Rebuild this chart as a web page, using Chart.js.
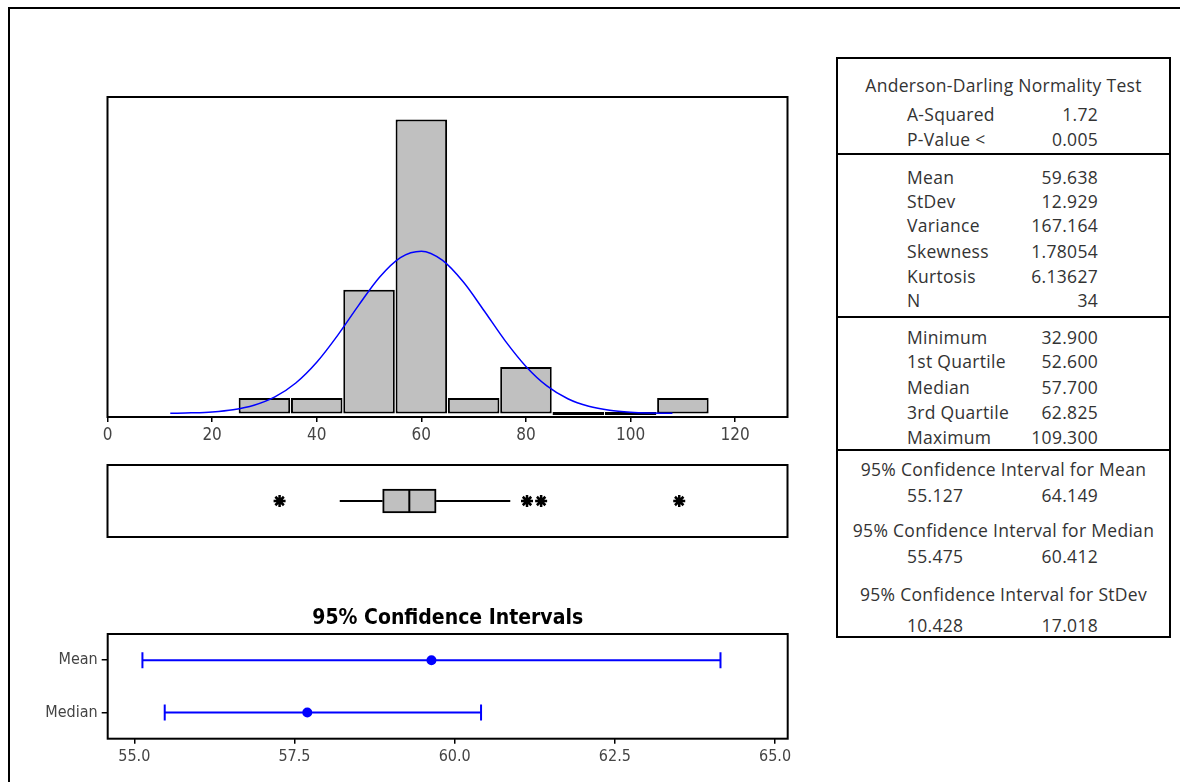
<!DOCTYPE html>
<html>
<head>
<meta charset="utf-8">
<script src="https://cdn.jsdelivr.net/npm/chart.js@4.4.1/dist/chart.umd.min.js"></script>
<style>
  html, body { margin: 0; padding: 0; background: #fff; }
  body { width: 1180px; height: 782px; position: relative; overflow: hidden; }
  #frame { position: absolute; left: 8px; top: 7px; width: 1300px; height: 900px;
           border-left: 2px solid #000; border-top: 2px solid #000; }
  canvas { position: absolute; left: 0; }
  #stats { position: absolute; left: 836px; top: 57px; width: 335px; height: 581px;
           border: 2px solid #000; box-sizing: border-box;
           font-family: 'Open Sans', 'DejaVu Sans', sans-serif; color: #333; }
  .sep { position: absolute; left: 0; right: 0; height: 0; border-top: 2px solid #000; }
  .cell { position: absolute; height: 24px; line-height: 24px; font-size: 17.5px;
          letter-spacing: 0.3px; white-space: nowrap; }
</style>
</head>
<body>
<div id="frame"></div>
<canvas id="hist" width="800" height="380" style="top:80px"></canvas>
<canvas id="box" width="800" height="100" style="top:455px"></canvas>
<canvas id="ci" width="800" height="182" style="top:600px"></canvas>
<div id="stats"></div>

<script>
// ── Data ─────────────────────────────────────────────────────────────────────

// histogram (bin width 10)
const binMids = [30, 40, 50, 60, 70, 80, 90, 100, 110];
const binCounts = [1, 1, 8, 19, 1, 3, 0, 0, 1];
const histTicks = [0, 20, 40, 60, 80, 100, 120];

// fitted normal curve
const curveX = [12, 16, 20, 24, 28, 32, 36, 40, 44, 48, 52, 56, 60, 64, 68, 72, 76, 80, 84, 88, 92, 96, 100, 104, 108];
const curveY = [0.01, 0.04, 0.10, 0.24, 0.53, 1.07, 1.97, 3.31, 5.05, 6.99, 8.81, 10.08, 10.49, 9.91, 8.51, 6.64, 4.71, 3.04, 1.78, 0.95, 0.46, 0.20, 0.08, 0.03, 0.01];

// boxplot
const boxQ1 = 52.6;
const boxMedian = 57.7;
const boxQ3 = 62.825;
const whiskerLow = 44.4;
const whiskerHigh = 77.0;
const outliers = [32.9, 80.2, 82.9, 109.3];

// confidence intervals
const ciTitle = '95% Confidence Intervals';
const ciLabels = ['Mean', 'Median'];
const ciLower = [55.127, 55.475];
const ciUpper = [64.149, 60.412];
const ciEstimate = [59.638, 57.7];
const ciTicks = [55.0, 57.5, 60.0, 62.5, 65.0];

// summary table
const adTitle = 'Anderson-Darling Normality Test';
const adLabels = ['A-Squared', 'P-Value <'];
const adValues = ['1.72', '0.005'];
const descLabels = ['Mean', 'StDev', 'Variance', 'Skewness', 'Kurtosis', 'N'];
const descValues = ['59.638', '12.929', '167.164', '1.78054', '6.13627', '34'];
const quartLabels = ['Minimum', '1st Quartile', 'Median', '3rd Quartile', 'Maximum'];
const quartValues = ['32.900', '52.600', '57.700', '62.825', '109.300'];
const intTitles = ['95% Confidence Interval for Mean', '95% Confidence Interval for Median', '95% Confidence Interval for StDev'];
const intLow = ['55.127', '55.475', '10.428'];
const intHigh = ['64.149', '60.412', '17.018'];

// ── Shared settings ──────────────────────────────────────────────────────────

const AXIS_FONT = "'DejaVu Sans Condensed', 'DejaVu Sans', sans-serif";
const BLUE = '#0000FF';
const GREY = '#C0C0C0';

Chart.defaults.font.family = AXIS_FONT;
Chart.defaults.color = '#444';
Chart.defaults.animation = false;

const framePlugin = {
  id: 'frame',
  afterDraw(chart) {
    const { ctx, chartArea: a } = chart;
    ctx.save();
    ctx.strokeStyle = '#000';
    ctx.lineWidth = 2;
    ctx.strokeRect(a.left, a.top, a.right - a.left, a.bottom - a.top);
    ctx.restore();
  }
};

const noExtras = { legend: { display: false }, tooltip: { enabled: false } };

// ── Histogram ────────────────────────────────────────────────────────────────

new Chart(document.getElementById('hist'), {
  type: 'bar',
  data: {
    datasets: [
      {
        type: 'line',
        data: curveX.map((x, i) => ({ x, y: curveY[i] })),
        borderColor: BLUE,
        borderWidth: 1.5,
        pointRadius: 0,
        cubicInterpolationMode: 'monotone',
        order: 0,
      },
      {
        type: 'bar',
        data: binMids.map((x, i) => ({ x, y: binCounts[i] })),
        backgroundColor: GREY,
        borderColor: '#000',
        borderWidth: 2,
        borderSkipped: false,
        barPercentage: 0.985,
        categoryPercentage: 1,
        minBarLength: 3,
        order: 1,
      }
    ]
  },
  options: {
    responsive: false,
    layout: { padding: { left: 107.5, right: 12.5, top: 17, bottom: 0 } },
    plugins: noExtras,
    scales: {
      x: {
        type: 'linear', min: 0, max: 130, offset: false,
        afterBuildTicks: s => { s.ticks = histTicks.map(v => ({ value: v })); },
        afterFit: s => { s.height = 43; },
        grid: { offset: false, drawOnChartArea: false, tickLength: 5, color: '#000', lineWidth: 1.5 },
        border: { display: false },
        ticks: { color: '#444', font: { size: 17 }, padding: 3 },
      },
      y: { type: 'linear', min: -0.23, max: 20.46, offset: false, display: false },
    },
  },
  plugins: [framePlugin],
});

// ── Boxplot ──────────────────────────────────────────────────────────────────

const blackLine = { type: 'line', borderColor: '#000', borderWidth: 2, pointRadius: 0 };

new Chart(document.getElementById('box'), {
  type: 'bar',
  data: {
    datasets: [
      { ...blackLine, data: [{ x: boxMedian, y: -0.33 }, { x: boxMedian, y: 0.33 }] },
      {
        type: 'scatter',
        data: outliers.map(x => ({ x, y: 0 })),
        pointStyle: 'star',
        pointRadius: 6,
        borderColor: '#000',
        borderWidth: 2.5,
      },
      { ...blackLine, data: [{ x: whiskerLow, y: 0 }, { x: boxQ1, y: 0 }] },
      { ...blackLine, data: [{ x: boxQ3, y: 0 }, { x: whiskerHigh, y: 0 }] },
      {
        type: 'bar',
        indexAxis: 'y',
        data: [{ x: [boxQ1, boxQ3], y: 0 }],
        barThickness: 24,
        backgroundColor: GREY,
        borderColor: '#000',
        borderWidth: 2,
        borderSkipped: false,
      }
    ]
  },
  options: {
    responsive: false,
    layout: { padding: { left: 107.5, right: 12.5, top: 10, bottom: 18 } },
    plugins: noExtras,
    scales: {
      x: { type: 'linear', min: 0, max: 130, offset: false, display: false },
      y: { type: 'linear', min: -1, max: 1, offset: false, display: false },
    },
  },
  plugins: [framePlugin],
});

// ── Confidence intervals ─────────────────────────────────────────────────────

new Chart(document.getElementById('ci'), {
  type: 'line',
  data: {
    datasets: [
      {
        type: 'scatter',
        data: ciLabels.map((l, i) => ({ x: ciEstimate[i], y: l })),
        pointRadius: 5,
        pointBackgroundColor: BLUE,
        pointBorderColor: BLUE,
        pointBorderWidth: 0,
      },
      ...ciLabels.map((l, i) => ({
        data: [{ x: ciLower[i], y: l }, { x: ciUpper[i], y: l }],
        borderColor: BLUE,
        borderWidth: 2,
        pointStyle: 'line',
        pointRotation: 90,
        pointRadius: 8,
        pointBorderColor: BLUE,
        pointBorderWidth: 2,
      }))
    ]
  },
  options: {
    responsive: false,
    layout: { padding: { left: 0, right: 12.3, top: 0, bottom: 0 } },
    plugins: {
      ...noExtras,
      title: {
        display: true, text: ciTitle, color: '#000', fullSize: false,
        font: { family: "'DejaVu Sans Condensed', 'DejaVu Sans', sans-serif", size: 21, weight: 'bold', lineHeight: 1.0 },
        padding: { top: 8, bottom: 5 },
      },
    },
    scales: {
      x: {
        type: 'linear', min: 54.585, max: 65.198,
        afterBuildTicks: s => { s.ticks = ciTicks.map(v => ({ value: v })); },
        afterFit: s => { s.height = 43.3; },
        grid: { drawOnChartArea: false, tickLength: 5, color: '#000', lineWidth: 1.5 },
        border: { display: false },
        ticks: { color: '#444', font: { size: 16 }, padding: 4, callback: v => v.toFixed(1) },
      },
      y: {
        type: 'category', labels: ciLabels, offset: true,
        afterFit: s => { s.width = 107.7; },
        grid: { drawOnChartArea: false, tickLength: 6, color: '#000', lineWidth: 1.5 },
        border: { display: false },
        ticks: { color: '#444', font: { size: 16 }, padding: 4 },
      },
    },
  },
  plugins: [framePlugin],
});

// ── Summary table ────────────────────────────────────────────────────────────

const stats = document.getElementById('stats');
const TOP = 59;       // inner top of the table box (page y)
const LABEL_X = 69;   // label left inside box
const VALUE_R = 260;  // value right edge inside box

function addCell(text, yCenter, style) {
  const d = document.createElement('div');
  d.className = 'cell';
  d.textContent = text;
  d.style.top = (yCenter - TOP - 12) + 'px';
  Object.assign(d.style, style);
  stats.appendChild(d);
}

function addPair(label, value, y) {
  addCell(label, y, { left: LABEL_X + 'px' });
  addCell(value, y, { left: '0px', width: VALUE_R + 'px', textAlign: 'right' });
}

function addSep(y) {
  const d = document.createElement('div');
  d.className = 'sep';
  d.style.top = (y - TOP - 1) + 'px';
  stats.appendChild(d);
}

addCell(adTitle, 85, { left: '0px', right: '0px', textAlign: 'center' });
[114, 139].forEach((y, i) => addPair(adLabels[i], adValues[i], y));
addSep(154);
[177, 201, 225, 251, 276, 300].forEach((y, i) => addPair(descLabels[i], descValues[i], y));
addSep(317);
[337, 361, 387, 412, 437].forEach((y, i) => addPair(quartLabels[i], quartValues[i], y));
addSep(450);
[[469, 495], [530, 556], [594, 625]].forEach(([ty, vy], i) => {
  addCell(intTitles[i], ty, { left: '0px', right: '0px', textAlign: 'center' });
  addCell(intLow[i], vy, { left: LABEL_X + 'px' });
  addCell(intHigh[i], vy, { left: '0px', width: VALUE_R + 'px', textAlign: 'right' });
});
</script>
</body>
</html>
